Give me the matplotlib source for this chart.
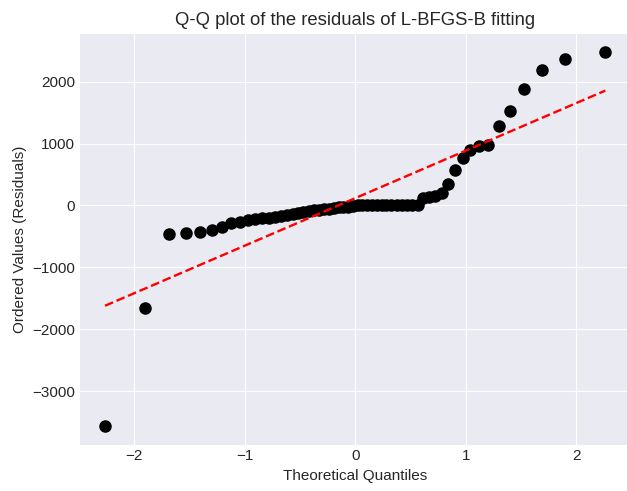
from statistics import NormalDist
import numpy as np
import matplotlib
matplotlib.use("Agg")
import matplotlib.pyplot as plt

# ordered residuals (58 points)
residuals = [
    -3560, -1650, -460, -450, -430, -390, -350, -290, -260, -235,
    -215, -205, -195, -185, -170, -150, -140, -125, -110, -95,
    -80, -70, -60, -50, -40, -30, -25, -20, -15,
    0, 2, 4, 5, 6, 7, 8, 8, 9, 10, 10, 11, 12,
    125, 130, 150, 200, 340, 580, 760, 890, 960, 980,
    1280, 1520, 1880, 2195, 2363, 2476,
]
title = "Q-Q plot of the residuals of L-BFGS-B fitting"
xlabel = "Theoretical Quantiles"
ylabel = "Ordered Values (Residuals)"

# Filliben order statistic medians, as in scipy.stats.probplot
n = len(residuals)
m = [(i - 0.3175) / (n + 0.365) for i in range(1, n + 1)]
m[-1] = 0.5 ** (1.0 / n)
m[0] = 1 - m[-1]
osm = np.array([NormalDist().inv_cdf(p) for p in m])
osr = np.array(residuals, dtype=float)
slope, intercept = np.polyfit(osm, osr, 1)

plt.style.use("seaborn-v0_8-darkgrid")
plt.rcParams["font.family"] = ["Liberation Sans", "DejaVu Sans"]

fig = plt.figure(figsize=(6.27, 4.91), dpi=100)
ax = fig.add_axes([0.1276, 0.0947, 0.8778, 0.8369])
ax.plot(osm, osr, "o", color="black", markersize=8)
ax.plot(osm, slope * osm + intercept, "r--", linewidth=1.7)
ax.set_title(title, fontsize=13.3)
ax.set_xlabel(xlabel, fontsize=11)
ax.set_ylabel(ylabel, fontsize=11)
ax.tick_params(labelsize=11)
fig.savefig("out.png", dpi=100)
plt.close(fig)
